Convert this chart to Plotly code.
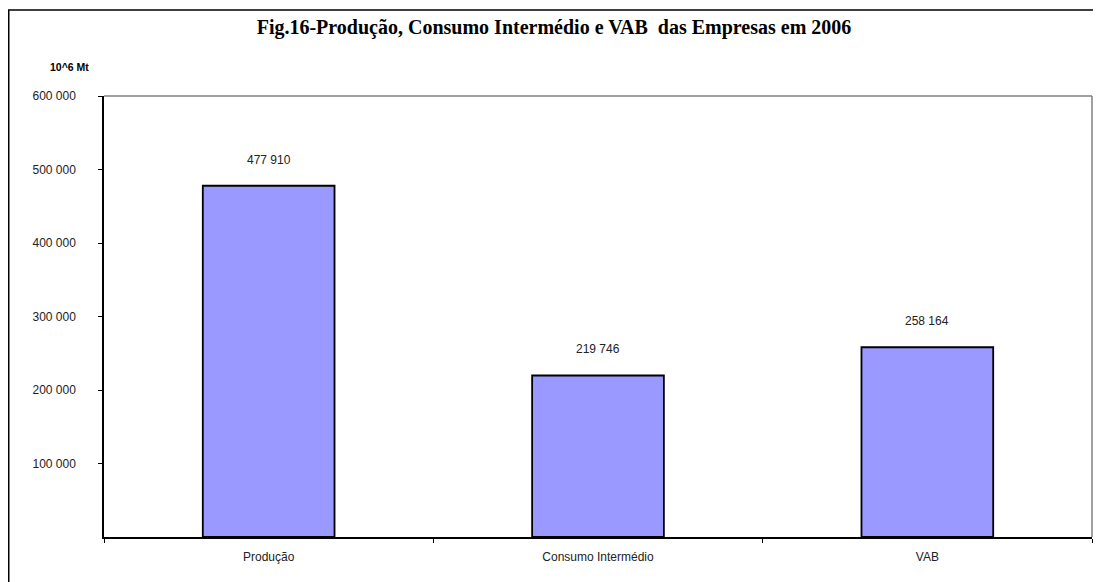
import plotly.graph_objects as go

categories = ["Produção", "Consumo Intermédio", "VAB"]
values = [477910, 219746, 258164]
ytick_vals = [100000, 200000, 300000, 400000, 500000, 600000]
title_text = "Fig.16-Produção, Consumo Intermédio e VAB \u00a0das Empresas em 2006"
unit_text = "10^6 Mt"

fig = go.Figure()
fig.add_trace(go.Bar(
    x=categories, y=values,
    marker=dict(color="#9999FF", line=dict(color="#000000", width=1.8)),
    cliponaxis=False, width=0.4, hoverinfo="x+y",
))

W, H = 1085, 574
ml, mr, mt, mb = 96, 1, 88, 45
pw, ph = W - ml - mr, H - mt - mb

def px_x(x):
    return (x - ml) / pw

def px_y(y):
    return (H - mb - y) / ph

annotations = [
    dict(text=unit_text, xref="paper", yref="paper", x=px_x(61), y=px_y(59),
         xanchor="center", yanchor="middle", showarrow=False,
         font=dict(family="Liberation Sans Narrow, Arial Narrow, Liberation Sans",
                   size=10.5, color="#000000", weight="bold")),
]
for c, v in zip(categories, values):
    annotations.append(dict(
        x=c, y=v, xref="x", yref="y", text=f"{v:,}".replace(",", " "),
        showarrow=False, xanchor="center", yanchor="middle", yshift=26,
        font=dict(family="Liberation Sans, Arial", size=12, color="#222222"),
    ))

fig.update_layout(
    width=W, height=H,
    margin=dict(l=ml, r=mr, t=mt, b=mb, pad=0),
    paper_bgcolor="white", plot_bgcolor="white",
    separators=", ",
    showlegend=False,
    title=dict(text=title_text, x=546 / W, xanchor="center", y=1 - 19 / H, yanchor="middle",
               font=dict(family="Liberation Serif, Times New Roman", size=20, color="#000000",
                         weight="bold")),
    font=dict(family="Liberation Sans, Arial", size=12, color="#222222"),
    xaxis=dict(showline=True, linecolor="#000000", linewidth=1.5, ticks="outside",
               tickson="boundaries", ticklen=4, tickcolor="#000000", showgrid=False,
               ticklabelstandoff=8,
               tickfont=dict(size=12, color="#222222"), fixedrange=True),
    yaxis=dict(range=[0, 600000], tickvals=ytick_vals, tickformat=",d",
               showline=True, linecolor="#000000", linewidth=1.5, ticks="outside",
               ticklen=4, tickcolor="#000000", showgrid=False, zeroline=False,
               ticklabelstandoff=20, tickfont=dict(size=12, color="#222222"),
               fixedrange=True),
    shapes=[
        dict(type="line", xref="paper", yref="paper", x0=0, x1=1, y0=1, y1=1,
             line=dict(color="#808080", width=1.5), layer="below"),
        dict(type="line", xref="paper", yref="paper", x0=1, x1=1, y0=0, y1=1,
             line=dict(color="#808080", width=1.5), layer="below"),
        dict(type="rect", xref="paper", yref="paper",
             x0=px_x(0.75), x1=px_x(W + 10), y0=px_y(H + 10), y1=px_y(2),
             line=dict(color="#000000", width=1.5), fillcolor="rgba(0,0,0,0)", layer="below"),
    ],
    annotations=annotations,
)

fig.write_html("out.html")
